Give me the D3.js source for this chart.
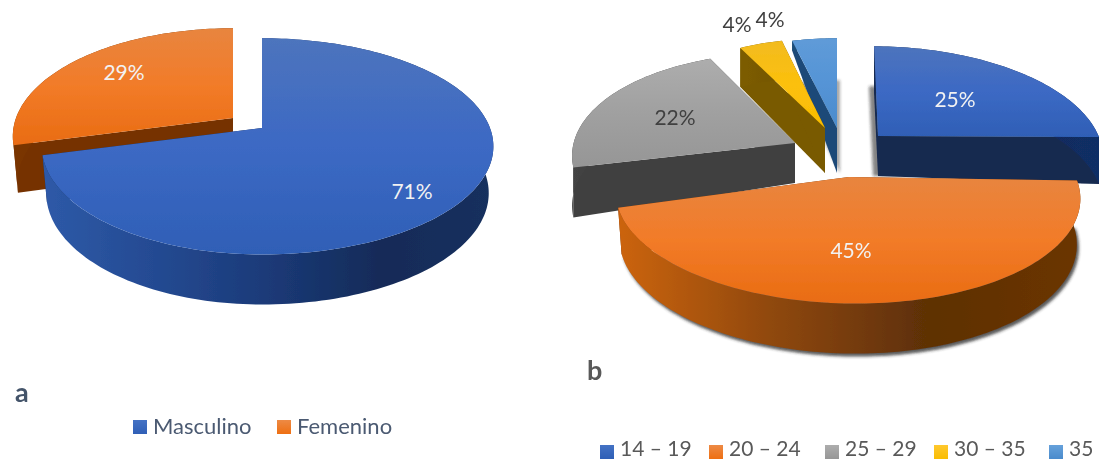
<!DOCTYPE html>
<html><head><meta charset="utf-8">
<script src="https://cdn.jsdelivr.net/npm/d3@7"></script>
<style>html,body{margin:0;background:#fff}svg{display:block}text{font-family:Lato,"Open Sans",sans-serif}</style>
</head><body><svg id="c" width="1108" height="461"></svg>
<script>
// ---- data ----
const genderCategories = ["Masculino", "Femenino"];
const genderValues = [71, 29];
const ageCategories = ["14 – 19", "20 – 24", "25 – 29", "30 – 35", "35"];
const ageValues = [25, 45, 22, 4, 4];

// ---- style ----
const blueTop = ["#4d74bd","#3c69c4","#2f5fb6"], orangeTop = ["#e8853f","#f27b28","#e96c12"];
const palette = {
  blue:   {top:blueTop, wall:["#2e5aa8","#244a92","#1b3a78","#142b58","#16305e"], face:"#14294f", swatch:["#4472c4","#2f5fb6"]},
  blueB:  {top:blueTop, wall:["#14294f","#14294f","#14294f","#122b5c","#112e66"], face:"#14294f", swatch:["#4472c4","#2f5fb6"]},
  orange: {top:orangeTop, wall:["#cc640f","#8f4810","#5e3006","#6b3505"], face:"#763200", swatch:["#ed8a45","#ee6f12"]},
  orangeA:{top:orangeTop, wall:["#7a3500","#763200","#763200","#763200"], face:"#763200", swatch:["#ed8a45","#ee6f12"]},
  gray:   {top:["#adadad","#a0a0a0","#969696"], wall:["#444","#3e3e3e","#404040","#3c3c3c"], face:"#404040", swatch:["#adadad","#969696"]},
  yellow: {top:["#f2bb20","#fcc00c","#f9bd02"], wall:["#7c5c00","#7a5a00","#765800","#7a5a00"], face:"#795a00", swatch:["#ffc82e","#f9bd02"]},
  sky:    {top:["#5f9bd8","#5594d6","#4a8bcc"], wall:["#1f4e79","#1f4e79","#1f4e79","#1f4e79"], face:"#1c4a78", swatch:["#66a1db","#4a8bcc"]}
};
// ---- layout: each slice has its apex, perspective and extrusion ----
const P = 0.17, A = 105;
const layoutA = [
  {c:"blue",   ox:262,oy:128,bl:217,br:228,a:A,s:0,sx:0,da:46,d0:46,d1:4,bs:.98},
  {c:"orangeA",ox:233,oy:118,bl:217,br:217,a:A,s:0,sx:0,da:46,d0:47,d1:2,bs:.98}
];
const layoutB = [
  {c:"blueB", ox:878,oy:136,bl:217,br:221,a:A,s:0.005,sx:.044,da:40,d0:47,d1:0,bs:1,sh:{dx:-5,dy:0,o:.55,d0:40}},
  {c:"orange",ox:849,oy:177,bl:230,br:228,a:A,s:0.015,sx:0,da:46,d0:45,d1:5,bs:.985,sh:{dx:2,dy:3,o:.75}},
  {c:"gray",  ox:795,oy:143,bl:218,br:218,a:A,s:0.045,sx:-.083,da:40,d0:50,d1:0,bs:1},
  {c:"yellow",ox:825,oy:128,bl:202,br:202,a:A,s:0,sx:0,da:45,d0:39,d1:0,bs:1},
  {c:"sky",   ox:837,oy:128,bl:210,br:210,a:A,s:0,sx:0,da:45,d0:10,d1:0,bs:1,sh:{dx:3,dy:0,o:.4,d0:42}}
];
const labelsA = [{x:412,y:199,f:"#f2f2f2"},{x:124,y:80,f:"#f2f2f2"}];
const labelsB = [{x:955,y:107,f:"#f2f2f2"},{x:851,y:258,f:"#f2f2f2"},{x:675,y:125,f:"#404040"},{x:737,y:32,f:"#404040"},{x:770,y:27,f:"#404040"}];

const svg = d3.select("#c");
const defs = svg.append("defs");
defs.append("filter").attr("id","soft").attr("x","-5%").attr("y","-5%").attr("width","110%").attr("height","110%")
  .append("feGaussianBlur").attr("stdDeviation",.6);
defs.append("filter").attr("id","blur").attr("x","-10%").attr("y","-10%").attr("width","120%").attr("height","120%")
  .append("feGaussianBlur").attr("stdDeviation",1.8);
Object.entries(palette).forEach(([k,p])=>{
  const t=defs.append("linearGradient").attr("id","top-"+k).attr("x1",0).attr("y1",0).attr("x2",0).attr("y2",1);
  p.top.forEach((c,i)=>t.append("stop").attr("offset",i/(p.top.length-1)).attr("stop-color",c));
  const w=defs.append("linearGradient").attr("id","wall-"+k);
  p.wall.forEach((c,i)=>w.append("stop").attr("offset",i/(p.wall.length-1)).attr("stop-color",c));
  const s=defs.append("linearGradient").attr("id","sw-"+k).attr("x1",0).attr("y1",0).attr("x2",0).attr("y2",1);
  p.swatch.forEach((c,i)=>s.append("stop").attr("offset",i).attr("stop-color",c));
});

const line = d3.line().curve(d3.curveLinearClosed);
function projector(l){
  // t: radial fraction, th: clockwise angle from 12 o'clock, lower: on the extruded bottom face
  return (th,t,lower,rimDepth)=>{
    const u=t*Math.sin(th), v=-t*Math.cos(th), den=1-P*v;
    let X=(u<0?l.bl:l.br)*u/den;
    const Y0=l.a*v/den;
    let Y=Y0+l.s*X;
    X+=l.sx*Y0;
    if(lower){
      const rim=(rimDepth!==undefined?rimDepth:l.d0)+l.d1*(-Math.cos(th));
      Y+=l.da+(rim-l.da)*t;
      X*=1-(1-l.bs)*t;
    }
    return [l.ox+X,l.oy+Y];
  };
}
function arcAngles(a,b){const n=Math.max(8,Math.ceil((b-a)*40));return d3.range(n+1).map(i=>a+(b-a)*i/n);}

function drawPie(values,layout,order,labels){
  const arcs=d3.pie().sort(null).value(d=>d)(values);
  const g=svg.append("g").attr("filter","url(#soft)");
  // shadows first
  order.forEach(i=>{
    const l=layout[i],a=arcs[i],p=projector(l);
    if(!l.sh) return;
    const pts=[p(a.startAngle,0,true,l.sh.d0),...arcAngles(a.startAngle,a.endAngle).map(th=>p(th,1,true,l.sh.d0))]
      .map(q=>[q[0]+l.sh.dx,q[1]+l.sh.dy]);
    g.append("path").attr("d",line(pts)).attr("fill","#222").attr("opacity",l.sh.o).attr("filter","url(#blur)");
  });
  order.forEach(i=>{
    const l=layout[i],a=arcs[i],p=projector(l),ang=arcAngles(a.startAngle,a.endAngle),col=palette[l.c];
    // cut faces
    [a.startAngle,a.endAngle].forEach(th=>{
      g.append("path").attr("d",line([p(th,0,false),p(th,1,false),p(th,1,true),p(th,0,true)])).attr("fill",col.face);
    });
    // outer wall
    g.append("path").attr("d",line([...ang.map(th=>p(th,1,false)),...ang.slice().reverse().map(th=>p(th,1,true))]))
      .attr("fill",`url(#wall-${l.c})`);
    // top
    g.append("path").attr("d",line([p(a.startAngle,0,false),...ang.map(th=>p(th,1,false))])).attr("fill",`url(#top-${l.c})`);
  });
  labels.forEach((t,i)=>svg.append("text").attr("x",t.x).attr("y",t.y).attr("text-anchor","middle")
    .attr("font-size",21).attr("fill",t.f).text(values[i]+"%"));
}
drawPie(genderValues,layoutA,[1,0],labelsA);
drawPie(ageValues,layoutB,[4,2,3,0,1],labelsB);

function legend(cats,cols,xs,y,size,fs,fill,base){
  cats.forEach((c,i)=>{
    svg.append("rect").attr("x",xs[i]).attr("y",y).attr("width",size).attr("height",size).attr("fill",`url(#sw-${cols[i]})`);
    svg.append("text").attr("x",xs[i]+size+6).attr("y",base).attr("font-size",fs).attr("fill",fill).text(c);
  });
}
legend(genderCategories,["blue","orange"],[133,277],420,14,22,"#4b5a72",434);
legend(ageCategories,["blue","orange","gray","yellow","sky"],[600,709,825,934,1049],445,14,21,"#595959",456);
svg.append("text").attr("x",15).attr("y",402).attr("font-size",27).attr("font-weight",700).attr("fill","#44546a").text("a");
svg.append("text").attr("x",587).attr("y",380).attr("font-size",27).attr("font-weight",700).attr("fill","#595959").text("b");
</script></body></html>
